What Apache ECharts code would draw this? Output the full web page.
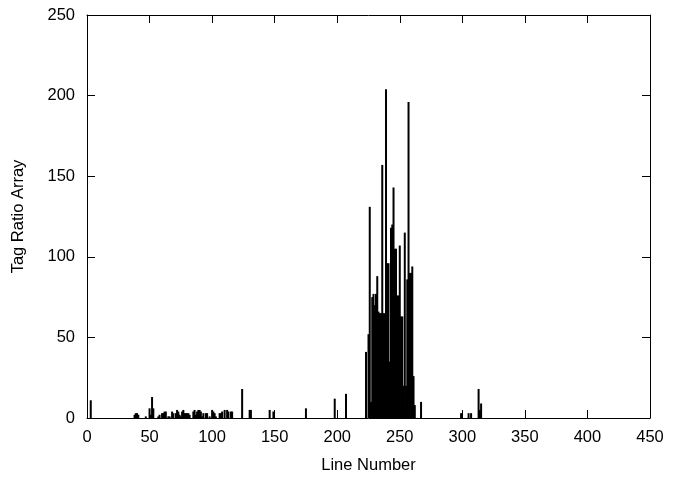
<!DOCTYPE html>
<html>
<head>
<meta charset="utf-8">
<script src="https://cdn.jsdelivr.net/npm/echarts@6/dist/echarts.min.js"></script>
<style>
html,body{margin:0;padding:0;background:#fff;}
#chart{width:675px;height:479px;}
</style>
</head>
<body>
<div id="chart"></div>
<script>
// Line numbers (x) and tag ratio values (y)
var sparseLines = [3, 38, 39, 40, 41, 47, 50, 51, 52, 53, 57, 58, 60, 61, 62, 63, 65, 66, 68, 69,
  71, 72, 73, 74, 75, 76, 77, 78, 79, 80, 81, 82, 85, 86, 87, 88, 89, 90, 91, 92, 93, 95, 96, 98,
  100, 101, 102, 103, 106, 107, 108, 110, 112, 113, 115, 116, 124, 130, 131, 146, 149, 175, 198, 207];
var sparseValues = [11, 2, 3, 3, 2, 1, 6, 2, 13, 6, 1, 2, 3, 3, 4, 4, 1, 1, 4, 3,
  3, 5, 4, 2, 1, 4, 5, 3, 3, 3, 3, 2, 4, 5, 2, 4, 5, 5, 4, 1, 3, 3, 3, 1,
  5, 4, 3, 1, 3, 3, 4, 5, 5, 4, 4, 4, 18, 5, 5, 5, 4, 6, 12, 15];
var denseLines = [223, 225, 226, 227, 228, 229, 230, 231, 232, 233, 234, 235, 236, 237, 238, 239,
  240, 241, 242, 243, 244, 245, 246, 247, 248, 249, 250, 251, 252, 253, 254, 255, 256, 257, 258,
  259, 260, 261, 262];
var denseValues = [41, 52, 131, 10, 75, 77, 70, 77, 88, 66, 65, 65, 157, 65, 65, 204,
  96, 96, 35, 118, 120, 143, 105, 105, 76, 76, 107, 63, 63, 20, 115, 20, 86, 196, 90,
  90, 94, 26, 8];
var tailLines = [267, 299, 305, 307, 313, 314, 315];
var tailValues = [10, 3, 3, 3, 18, 5, 9];

var allLines = sparseLines.concat(denseLines, tailLines);
var allValues = sparseValues.concat(denseValues, tailValues);
var points = allLines.map(function (x, i) { return [x, allValues[i]]; });

var font = 'Liberation Sans, Arial, Helvetica, sans-serif';
var fs = 16.5;
var chart = echarts.init(document.getElementById('chart'), null, {renderer: 'canvas'});
var axisLine = {show: true, onZero: false, lineStyle: {color: '#000', width: 1}};
var tick = {show: true, inside: true, length: 8, lineStyle: {color: '#000', width: 1}};
chart.setOption({
  backgroundColor: '#fff',
  animation: false,
  grid: {left: 87, right: 25, top: 15, bottom: 56, containLabel: false},
  xAxis: [{
    type: 'value', min: 0, max: 450, interval: 50, position: 'bottom',
    name: 'Line Number', nameLocation: 'middle', nameGap: 39,
    nameTextStyle: {fontFamily: font, fontSize: fs, color: '#000'},
    axisLine: axisLine, axisTick: tick, splitLine: {show: false},
    axisLabel: {fontFamily: font, fontSize: fs, color: '#000', margin: 11}
  }, {
    type: 'value', min: 0, max: 450, interval: 50, position: 'top',
    axisLine: axisLine, axisTick: tick, splitLine: {show: false},
    axisLabel: {show: false}
  }],
  yAxis: [{
    type: 'value', min: 0, max: 250, interval: 50, position: 'left',
    name: 'Tag Ratio Array', nameLocation: 'middle', nameGap: 60, nameRotate: 90,
    nameTextStyle: {fontFamily: font, fontSize: fs, color: '#000'},
    axisLine: axisLine, axisTick: tick, splitLine: {show: false},
    axisLabel: {fontFamily: font, fontSize: fs, color: '#000', margin: 12}
  }, {
    type: 'value', min: 0, max: 250, interval: 50, position: 'right',
    axisLine: axisLine, axisTick: tick, splitLine: {show: false},
    axisLabel: {show: false}
  }],
  series: [{
    type: 'bar',
    xAxisIndex: 0, yAxisIndex: 0,
    data: points,
    barWidth: 2,
    itemStyle: {color: '#000'},
    emphasis: {disabled: true}
  }]
});
</script>
</body>
</html>
